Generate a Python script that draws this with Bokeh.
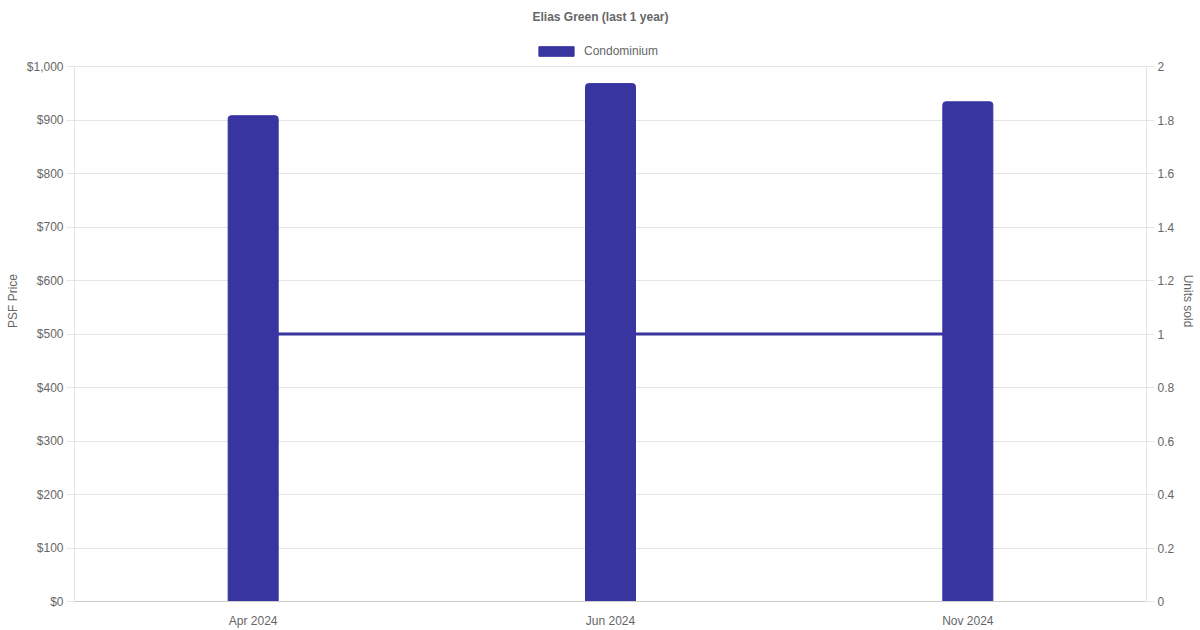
from bokeh.plotting import figure
from bokeh.models import (Range1d, LinearAxis, FixedTicker, NumeralTickFormatter,
                          Legend, LegendItem, FactorRange, Label)
from bokeh.embed import file_html
from bokeh.resources import INLINE

# data
months = ["Apr 2024", "Jun 2024", "Nov 2024"]
psf_price = [908, 968, 934]
units_sold = [1, 1, 1]

price_ticks = list(range(0, 1001, 100))
units_ticks = [0, 0.2, 0.4, 0.6, 0.8, 1, 1.2, 1.4, 1.6, 1.8, 2]

BAR = "#3834a0"
TXT = "#666666"
GRID = "#e5e5e5"
FONT = "Liberation Sans"

# the frame reaches to the top of the canvas so title and legend sit inside it
TOP_PAD = 601 / 535

p = figure(x_range=FactorRange(*months, range_padding=0), y_range=Range1d(0, 1000 * TOP_PAD),
           width=1200, height=630, output_backend="svg", toolbar_location=None,
           min_border_left=74, min_border_right=54, min_border_top=0, min_border_bottom=29)
p.title = None
p.outline_line_color = None
p.extra_y_ranges = {"units": Range1d(0, 2 * TOP_PAD)}

p.add_layout(Label(x=526, y=585, x_units="screen", y_units="screen",
                   text="Elias Green (last 1 year)", text_align="center",
                   text_baseline="middle", text_font=FONT, text_font_size="12px",
                   text_font_style="bold", text_color=TXT))

# units sold line, behind the bars
p.line(months, units_sold, y_range_name="units", line_color=BAR, line_width=3)

bars = p.vbar(x=months, top=psf_price, width=0.14, fill_color=BAR, line_color=BAR,
              border_radius=(3, 3, 0, 0))

p.xgrid.visible = False
p.ygrid.grid_line_color = GRID
p.ygrid.ticker = FixedTicker(ticks=price_ticks)
p.ygrid.bounds = (0, 1000)

xa = p.xaxis[0]
xa.major_tick_line_color = None
xa.minor_tick_line_color = None
xa.axis_line_color = "#cccccc"
xa.major_label_text_font = FONT
xa.major_label_text_font_size = "12px"
xa.major_label_text_color = TXT
xa.major_label_standoff = 6

ya = p.yaxis[0]
ya.ticker = FixedTicker(ticks=price_ticks)
ya.formatter = NumeralTickFormatter(format="$0,0")
ya.axis_label = "PSF Price"
ya.bounds = (0, 1000)

ra = LinearAxis(y_range_name="units", axis_label="Units sold", bounds=(0, 2))
ra.ticker = FixedTicker(ticks=units_ticks)
ra.formatter = NumeralTickFormatter(format="0[.][0]")
p.add_layout(ra, "right")

for ax in (ya, ra):
    ax.axis_line_color = GRID
    ax.major_tick_line_color = GRID
    ax.major_tick_out = 8
    ax.major_tick_in = 0
    ax.minor_tick_line_color = None
    ax.major_label_text_font = FONT
    ax.major_label_text_font_size = "12px"
    ax.major_label_text_color = TXT
    ax.major_label_standoff = 3
    ax.axis_label_text_font = FONT
    ax.axis_label_text_font_size = "12px"
    ax.axis_label_text_font_style = "normal"
    ax.axis_label_text_color = TXT
    ax.axis_label_standoff = 4

legend = Legend(items=[LegendItem(label="Condominium", renderers=[bars])],
                location=(460, 543), orientation="horizontal",
                glyph_width=44, glyph_height=12, label_height=12, label_standoff=6,
                padding=0, margin=0, spacing=0,
                label_text_font=FONT, label_text_font_size="12px", label_text_color=TXT,
                border_line_color=None, background_fill_color=None)
p.add_layout(legend, "center")

open("out.html", "w").write(file_html(p, INLINE))
